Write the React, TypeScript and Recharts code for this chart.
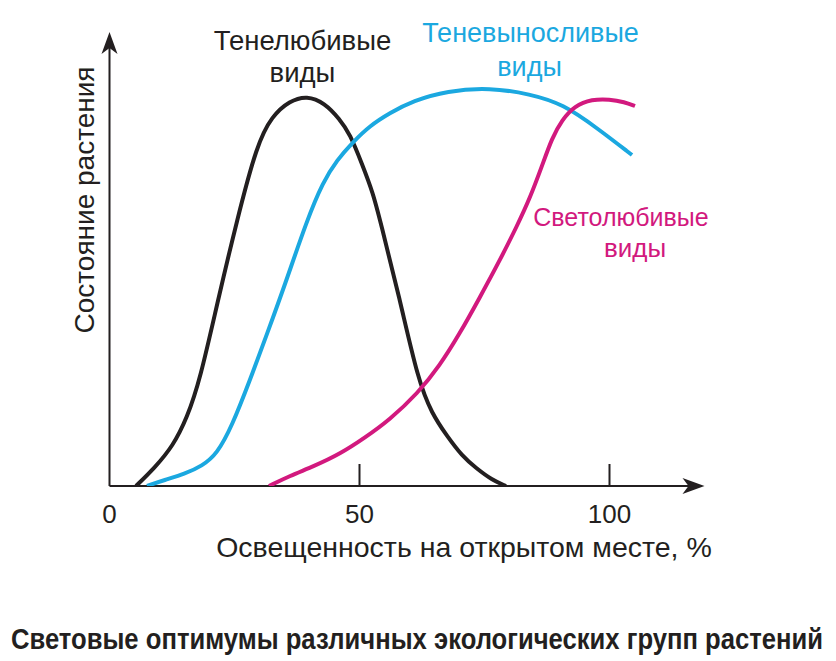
import React from 'react';
import { LineChart, Line, XAxis, YAxis, ReferenceLine, ReferenceDot } from 'recharts';

// x = освещенность, %; y = состояние растения (условные единицы)
const shadeLovingX = [5.3, 9, 12.7, 15.5, 18.1, 21.7, 25.5, 29.5, 32.5, 36, 39.5, 43, 46, 48.1, 50.5, 52.7, 54.1, 58.1, 61.7, 64.5, 67.5, 70.5, 73.3, 76.5, 79.3];
const shadeLovingY = [0, 4.5, 10, 17, 26.5, 46.5, 66.5, 85.5, 92.5, 96.3, 97.6, 95.8, 91.8, 88, 80.5, 73.25, 66.5, 46.5, 26.5, 18, 12.5, 7.5, 4.5, 1.5, 0];

const shadeTolerantX = [7.5, 11, 15, 18.5, 21.5, 24.5, 28.1, 31.5, 35, 39.5, 42.7, 45.5, 48.7, 52, 56.1, 60.7, 67.5, 76.1, 84.1, 90.7, 97.5, 104.5];
const shadeTolerantY = [0, 1.5, 3, 5, 8, 15, 26.5, 38, 50, 66.5, 76, 81.5, 86, 90, 93.3, 96.3, 98.8, 99.6, 98, 95.5, 89.5, 82.75];

const lightLovingX = [31.9, 36, 41, 46.1, 51, 56, 61.7, 66, 70, 74, 78.1, 81.5, 84.1, 86.5, 88.5, 90.5, 93, 96.5, 100, 103, 105.1];
const lightLovingY = [0, 2.5, 5, 8, 12, 16.5, 23.25, 30, 38, 47, 56.5, 65, 72, 80, 87, 91.5, 95, 96.7, 96.7, 96, 95];

const xTicks = [0, 50, 100];
const innerTicks = [50, 100];

const toRows = (xs: number[], ys: number[]) => xs.map((x, i) => ({ x, y: ys[i] }));

const shadeLoving = toRows(shadeLovingX, shadeLovingY);
const shadeTolerant = toRows(shadeTolerantX, shadeTolerantY);
const lightLoving = toRows(lightLovingX, lightLovingY);

const INK = '#231f20';
const BLUE = '#1ba8e0';
const MAGENTA = '#d2197e';
const FONT = "'Liberation Sans', Arial, sans-serif";

const X_MAX = 119;
const Y_MAX = 113.5;

const ArrowRight = (props: any) => {
  const { cx, cy } = props;
  return <path d={`M${cx},${cy} L${cx - 22},${cy - 8} L${cx - 16},${cy} L${cx - 22},${cy + 8} Z`} fill={INK} />;
};

const ArrowUp = (props: any) => {
  const { cx, cy } = props;
  return <path d={`M${cx},${cy} L${cx - 8},${cy + 22} L${cx},${cy + 16} L${cx + 8},${cy + 22} Z`} fill={INK} />;
};

export default function App() {
  return (
    <div style={{ position: 'absolute', left: 0, top: 0, width: 836, height: 661, background: '#fff' }}>
      <LineChart
        width={836}
        height={661}
        margin={{ top: 32, right: 131.5, bottom: 135, left: 109.5 }}
      >
        <XAxis
          type="number"
          dataKey="x"
          domain={[0, X_MAX]}
          ticks={xTicks}
          axisLine={false}
          tickLine={false}
          tickSize={0}
          tickMargin={19}
          height={40}
          tick={{ fontSize: 26, fill: INK, fontFamily: FONT }}
          allowDataOverflow
        />
        <YAxis type="number" dataKey="y" domain={[0, Y_MAX]} hide allowDataOverflow />
        <ReferenceLine segment={[{ x: 0, y: 0 }, { x: X_MAX - 2, y: 0 }]} stroke={INK} strokeWidth={2} />
        <ReferenceLine segment={[{ x: 0, y: 0 }, { x: 0, y: Y_MAX - 4 }]} stroke={INK} strokeWidth={2} />
        {innerTicks.map((t) => (
          <ReferenceLine key={t} segment={[{ x: t, y: 0 }, { x: t, y: 5.5 }]} stroke={INK} strokeWidth={2} />
        ))}
        <ReferenceDot x={X_MAX} y={0} r={0} shape={ArrowRight} ifOverflow="visible" />
        <ReferenceDot x={0} y={Y_MAX} r={0} shape={ArrowUp} ifOverflow="visible" />
        <Line data={shadeLoving} dataKey="y" type="basis" stroke={INK} strokeWidth={4} dot={false} isAnimationActive={false} />
        <Line data={shadeTolerant} dataKey="y" type="basis" stroke={BLUE} strokeWidth={4} dot={false} isAnimationActive={false} />
        <Line data={lightLoving} dataKey="y" type="basis" stroke={MAGENTA} strokeWidth={4} dot={false} isAnimationActive={false} />
      </LineChart>
      <svg
        width={836}
        height={661}
        style={{ position: 'absolute', left: 0, top: 0, pointerEvents: 'none' }}
        fontFamily={FONT}
      >
        <text x={302.5} y={50} fontSize={27.5} fill={INK} textAnchor="middle">Тенелюбивые</text>
        <text x={302.5} y={82} fontSize={27.5} fill={INK} textAnchor="middle">виды</text>
        <text x={530.5} y={42} fontSize={27} fill={BLUE} textAnchor="middle">Теневыносливые</text>
        <text x={529.5} y={76} fontSize={27} fill={BLUE} textAnchor="middle">виды</text>
        <text x={621} y={226} fontSize={25} fill={MAGENTA} textAnchor="middle">Светолюбивые</text>
        <text x={635} y={257} fontSize={26} fill={MAGENTA} textAnchor="middle">виды</text>
        <text x={94} y={200} fontSize={28} fill={INK} textAnchor="middle" transform="rotate(-90 94 200)">Состояние растения</text>
        <text x={464} y={557} fontSize={28.5} fill={INK} textAnchor="middle">Освещенность на открытом месте, %</text>
        <g transform="translate(417 649) scale(1 1.15)">
          <text
            x={0}
            y={0}
            fontSize={25.2}
            fontWeight="bold"
            fill={INK}
            textAnchor="middle"
            textLength={812}
            lengthAdjust="spacingAndGlyphs"
          >
            Световые оптимумы различных экологических групп растений
          </text>
        </g>
      </svg>
    </div>
  );
}
